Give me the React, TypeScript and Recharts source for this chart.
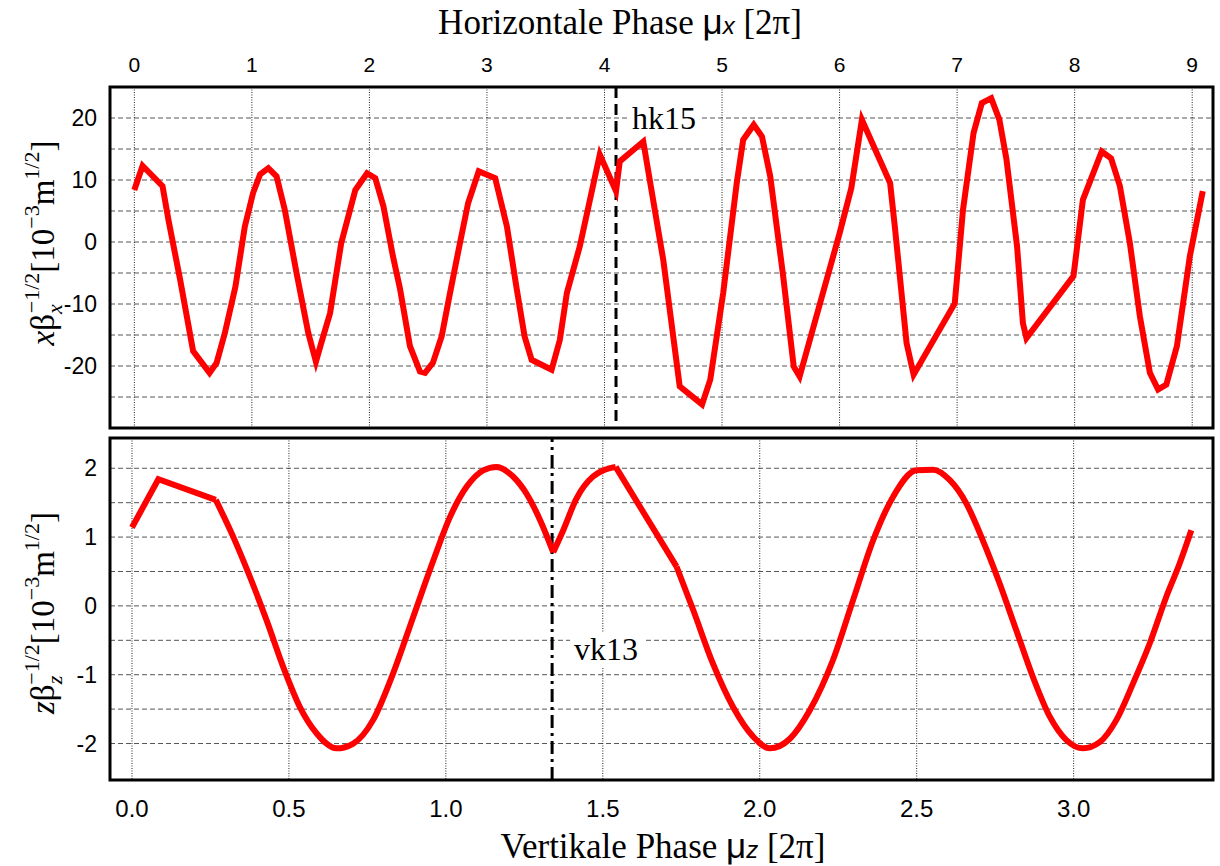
import React from 'react'
import { LineChart, Line, XAxis, YAxis, CartesianGrid, ReferenceLine, ReferenceArea } from 'recharts'

// horizontal orbit: phase mu_x [2pi] and x*beta_x^-1/2 [1e-3 m^1/2]
const muX = [
  0.0, 0.07, 0.24, 0.29, 0.39, 0.5, 0.64, 0.7, 0.77, 0.86, 0.94, 1.01, 1.07, 1.14, 1.21, 1.28,
  1.38, 1.48, 1.545, 1.59, 1.665, 1.76, 1.88, 1.98, 2.05, 2.12, 2.2, 2.26, 2.345, 2.43, 2.473,
  2.54, 2.615, 2.686, 2.77, 2.84, 2.93, 3.07, 3.17, 3.25, 3.32, 3.38, 3.55, 3.62, 3.68, 3.79,
  3.96, 4.098, 4.13, 4.33, 4.5, 4.64, 4.83, 4.9, 5.01, 5.125, 5.18, 5.27, 5.34, 5.41, 5.52,
  5.61, 5.66, 6.0, 6.1, 6.19, 6.43, 6.47, 6.57, 6.63, 6.98, 7.05, 7.14, 7.21, 7.29, 7.36, 7.42,
  7.51, 7.56, 7.59, 7.99, 8.07, 8.23, 8.31, 8.385, 8.47, 8.555, 8.64, 8.71, 8.78, 8.87, 8.98, 9.09,
]
const xOrbit = [
  8.4, 12.3, 9.0, 3.6, -6.1, -17.6, -21.1, -19.5, -14.7, -7.2, 2.5, 7.9, 10.9, 11.9, 10.6, 5.2,
  -5.0, -14.7, -19.3, -16.3, -11.5, -0.2, 8.4, 11.1, 10.3, 5.7, -2.3, -7.5, -16.8, -20.9, -21.1,
  -19.5, -15.2, -8.2, -0.2, 6.3, 11.4, 10.3, 2.5, -7.2, -15.2, -19.0, -20.6, -15.8, -8.2, -0.7,
  14.1, 8.2, 13.0, 16.2, -2.9, -23.3, -26.2, -22.2, -8.2, 9.5, 16.5, 18.9, 17.0, 10.6, -5.5,
  -20.1, -21.7, 1.4, 8.7, 19.7, 9.5, 2.5, -16.3, -21.4, -9.9, 5.2, 17.6, 22.4, 23.2, 19.7, 13.3,
  -0.7, -13.1, -15.5, -5.5, 6.8, 14.6, 13.5, 9.0, -0.2, -12.0, -21.1, -23.8, -23.0, -16.8, -2.3, 8.2,
]

// vertical orbit: phase mu_z [2pi] and z*beta_z^-1/2 [1e-3 m^1/2]
const muZ = [
  0.0, 0.084, 0.267, 0.323, 0.376, 0.429, 0.482, 0.535, 0.588, 0.652, 0.705, 0.768, 0.832, 0.896,
  0.96, 1.013, 1.066, 1.119, 1.161, 1.214, 1.257, 1.3, 1.342, 1.374, 1.416, 1.469, 1.541, 1.735,
  1.788, 1.851, 1.915, 1.979, 2.032, 2.096, 2.159, 2.233, 2.297, 2.361, 2.424, 2.499, 2.552,
  2.605, 2.658, 2.711, 2.764, 2.817, 2.87, 2.924, 2.977, 3.03, 3.083, 3.136, 3.189, 3.242,
  3.295, 3.338, 3.375,
]
const zOrbit = [
  1.14, 1.84, 1.54, 1.0, 0.42, -0.21, -0.89, -1.47, -1.85, -2.07, -2.0, -1.66, -0.98, -0.16,
  0.66, 1.29, 1.73, 1.97, 2.02, 1.88, 1.63, 1.25, 0.78, 1.1, 1.56, 1.88, 2.02, 0.57,
  -0.06, -0.84, -1.47, -1.9, -2.07, -1.93, -1.52, -0.79, 0.08, 0.95, 1.58, 1.97, 1.98,
  1.83, 1.49, 0.95, 0.33, -0.35, -1.03, -1.61, -1.95, -2.07, -1.98, -1.66, -1.13, -0.55,
  0.13, 0.62, 1.1,
]
// pieces of the vertical orbit: straight between kicks, smooth in free drift
const zPieces: [number, number, 'linear' | 'monotoneX'][] = [
  [0.0, 0.267, 'linear'],
  [0.267, 1.342, 'monotoneX'],
  [1.342, 1.541, 'monotoneX'],
  [1.541, 1.735, 'linear'],
  [1.735, 3.375, 'monotoneX'],
]

const muXTicks = [0, 1, 2, 3, 4, 5, 6, 7, 8, 9]
const xAmpTicks = [-25, -20, -15, -10, -5, 0, 5, 10, 15, 20]
const muZTicks = [0, 0.5, 1.0, 1.5, 2.0, 2.5, 3.0]
const zAmpTicks = [-2, -1.5, -1, -0.5, 0, 0.5, 1, 1.5, 2]

const hk15Phase = 4.098
const vk13Phase = 1.3385

const xDomainTop: [number, number] = [-0.207, 9.177]
const yDomainTop: [number, number] = [-30, 25]
const xDomainBottom: [number, number] = [-0.07, 3.444]
const yDomainBottom: [number, number] = [-2.53, 2.44]

const horizontalData = muX.map((mu, i) => ({ mu, amp: xOrbit[i] }))
const verticalData = muZ.map((mu, i) => ({ mu, amp: zOrbit[i] }))

const sans = '"Liberation Sans", Arial, sans-serif'
const serif = '"Liberation Serif", "Times New Roman", serif'

function MarkerLabel(props: any) {
  const { viewBox, text, dx, dy } = props
  if (!viewBox) return null
  const x = viewBox.x + dx
  const y = viewBox.y + dy
  return (
    <g>
      <rect x={x - 4} y={y - 27} width={74} height={34} fill="#fff" />
      <text x={x} y={y} fontFamily={serif} fontSize={32} fill="#000">
        {text}
      </text>
    </g>
  )
}

function AmpLabel({ cx, cy, v }: { cx: number; cy: number; v: string }) {
  return (
    <text
      transform={`translate(${cx},${cy}) rotate(-90)`}
      textAnchor="middle"
      fontFamily={serif}
      fontSize={33}
      fill="#000"
    >
      <tspan fontStyle="italic">{v}</tspan>
      <tspan>β</tspan>
      <tspan fontSize={22} fontStyle="italic" dy={8}>{v}</tspan>
      <tspan fontSize={22} dx={-9} dy={-23}>−1/2</tspan>
      <tspan dy={15}>[10</tspan>
      <tspan fontSize={22} dy={-15}>−3</tspan>
      <tspan dy={15}>m</tspan>
      <tspan fontSize={22} dy={-15}>1/2</tspan>
      <tspan dy={15}>]</tspan>
    </text>
  )
}

export default function App() {
  return (
    <div style={{ position: 'absolute', left: 0, top: 0, width: 1220, height: 866, background: '#fff' }}>
      <div style={{ position: 'absolute', left: 0, top: 0 }}>
        <LineChart width={1220} height={440} data={horizontalData} margin={{ top: 47, right: 7, bottom: 12, left: 50 }}>
          <CartesianGrid vertical={false} stroke="#555" strokeDasharray="5 3" />
          <CartesianGrid horizontal={false} stroke="#222" strokeDasharray="1 1.5" />
          <XAxis
            dataKey="mu"
            type="number"
            orientation="top"
            height={40}
            domain={xDomainTop}
            allowDataOverflow
            ticks={muXTicks}
            tickLine={false}
            axisLine={false}
            tickSize={0}
            tickMargin={15}
            tick={{ fill: '#000', fontSize: 21, fontFamily: sans }}
          />
          <YAxis
            type="number"
            width={60}
            domain={yDomainTop}
            allowDataOverflow
            ticks={xAmpTicks}
            tickFormatter={(v: number) => (v % 10 === 0 ? String(v) : '')}
            tickLine={false}
            axisLine={false}
            tickSize={0}
            tickMargin={13}
            tick={{ fill: '#000', fontSize: 23, fontFamily: sans }}
          />
          <ReferenceLine
            x={hk15Phase}
            stroke="#000"
            strokeWidth={3}
            strokeDasharray="11 6"
            label={<MarkerLabel text="hk15" dx={16} dy={42} />}
          />
          <Line
            type="linear"
            dataKey="amp"
            stroke="#ff0000"
            strokeWidth={6}
            dot={false}
            isAnimationActive={false}
          />
          <ReferenceArea
            x1={xDomainTop[0]}
            x2={xDomainTop[1]}
            y1={yDomainTop[0]}
            y2={yDomainTop[1]}
            fill="none"
            stroke="#000"
            strokeWidth={3}
            ifOverflow="visible"
          />
        </LineChart>
      </div>

      <div style={{ position: 'absolute', left: 0, top: 430 }}>
        <LineChart width={1220} height={436} data={verticalData} margin={{ top: 8, right: 7, bottom: 36, left: 50 }}>
          <CartesianGrid vertical={false} stroke="#555" strokeDasharray="5 3" />
          <CartesianGrid horizontal={false} stroke="#222" strokeDasharray="1 1.5" />
          <XAxis
            dataKey="mu"
            type="number"
            height={50}
            domain={xDomainBottom}
            allowDataOverflow
            ticks={muZTicks}
            tickFormatter={(v: number) => v.toFixed(1)}
            tickLine={false}
            axisLine={false}
            tickSize={0}
            tickMargin={20}
            tick={{ fill: '#000', fontSize: 24, fontFamily: sans }}
          />
          <YAxis
            type="number"
            width={60}
            domain={yDomainBottom}
            allowDataOverflow
            ticks={zAmpTicks}
            tickFormatter={(v: number) => (Number.isInteger(v) ? String(v) : '')}
            tickLine={false}
            axisLine={false}
            tickSize={0}
            tickMargin={13}
            tick={{ fill: '#000', fontSize: 23, fontFamily: sans }}
          />
          <ReferenceLine
            x={vk13Phase}
            stroke="#000"
            strokeWidth={3}
            strokeDasharray="13 5 3 5"
            label={<MarkerLabel text="vk13" dx={22} dy={222} />}
          />
          {zPieces.map(([from, to, curve]) => (
            <Line
              key={from}
              data={verticalData.filter((d) => d.mu >= from && d.mu <= to)}
              type={curve}
              dataKey="amp"
              stroke="#ff0000"
              strokeWidth={6}
              dot={false}
              isAnimationActive={false}
            />
          ))}
          <ReferenceArea
            x1={xDomainBottom[0]}
            x2={xDomainBottom[1]}
            y1={yDomainBottom[0]}
            y2={yDomainBottom[1]}
            fill="none"
            stroke="#000"
            strokeWidth={3}
            ifOverflow="visible"
          />
        </LineChart>
      </div>

      <svg width={1220} height={866} style={{ position: 'absolute', left: 0, top: 0, pointerEvents: 'none' }}>
        <text x={620} y={34} textAnchor="middle" fontFamily={serif} fontSize={35} fill="#000">
          Horizontale Phase <tspan fontFamily={sans}>μ</tspan>
          <tspan fontFamily={sans} fontStyle="italic" fontSize={24}>x</tspan> [2π]
        </text>
        <text x={663} y={858} textAnchor="middle" fontFamily={serif} fontSize={35} fill="#000">
          Vertikale Phase <tspan fontFamily={sans}>μ</tspan>
          <tspan fontFamily={sans} fontStyle="italic" fontSize={24}>z</tspan> [2π]
        </text>
        <AmpLabel cx={54} cy={243} v="x" />
        <AmpLabel cx={54} cy={613} v="z" />
      </svg>
    </div>
  )
}
